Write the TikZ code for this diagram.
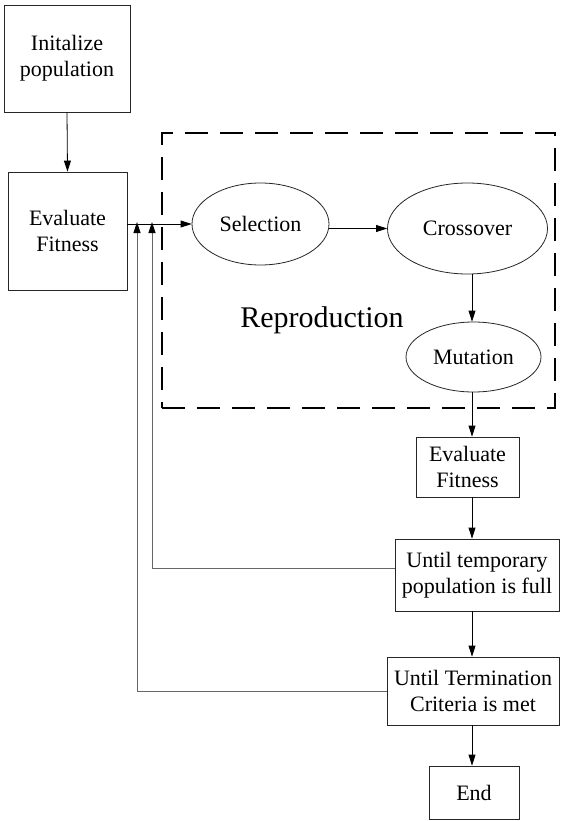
\documentclass[tikz,border=0pt]{standalone}
\usepackage{fontspec}
\setmainfont{Liberation Serif}
\usetikzlibrary{arrows.meta,shapes.geometric}
\begin{document}
\begin{tikzpicture}[x=1pt,y=-1pt,
  box/.style={draw=black!85, line width=0.8pt, rectangle, align=center, inner sep=0pt,
    font=\fontsize{22}{26}\selectfont},
  oval/.style={draw=black!85, line width=0.8pt, ellipse, align=center, inner sep=0pt,
    font=\fontsize{22}{26}\selectfont},
  arr/.style={line width=0.8pt, -{Triangle[length=11pt,width=7pt]}},
  fb/.style={draw=black!60, line width=0.8pt, -{Triangle[length=11pt,width=7pt,fill=black,color=black]}},
  dashbox/.style={draw=black, line width=2.2pt, dash pattern=on 23pt off 12pt, rectangle, inner sep=0pt}
]
\useasboundingbox (0,0) rectangle (561,821);
\fill[white] (0,0) rectangle (561,821);

\node[dashbox, minimum width=393pt, minimum height=275pt] (rbox) at (358.5,270.5) {};

\node[box, minimum width=126pt, minimum height=107pt] (init) at (67,58.5) {Initalize\\population};
\node[box, minimum width=119pt, minimum height=118pt] (eval1) at (67.5,231) {Evaluate\\Fitness};
\node[oval, minimum width=137pt, minimum height=82pt] (sel) at (260.5,224) {Selection};
\node[oval, minimum width=160pt, minimum height=91pt] (cross) at (467.5,228.5) {Crossover};
\node[oval, minimum width=135pt, minimum height=70pt] (mut) at (473.5,357) {Mutation};
\node[font=\fontsize{30}{36}\selectfont, inner sep=0pt] (repro) at (322,320) {Reproduction};
\node[box, minimum width=103pt, minimum height=60pt] (eval2) at (467.5,467) {Evaluate\\Fitness};
\node[box, minimum width=164pt, minimum height=72pt] (temp) at (477,575) {Until temporary\\population is full};
\node[box, minimum width=172pt, minimum height=68pt] (term) at (473,691) {Until Termination\\Criteria is met};
\node[box, minimum width=90pt, minimum height=53pt] (endn) at (474,792.5) {End};

\coordinate (col) at (472,0);
\coordinate (fbA) at (152,222);
\coordinate (fbB) at (137,222);

\draw[arr] (init.south) -- (eval1.north);
\draw[arr] (eval1.east |- sel.west) -- (sel.west);
\draw[arr] (sel.east |- cross.west) -- (cross.west);
\draw[arr] (cross.south -| col) -- (mut.north -| col);
\draw[arr] (mut.south -| col) -- (eval2.north -| col);
\draw[arr] (eval2.south -| col) -- (temp.north -| col);
\draw[arr] (temp.south -| col) -- (term.north -| col);
\draw[arr] (term.south -| col) -- (endn.north -| col);

\draw[fb] ([yshift=7pt]temp.west) -| (fbA);
\draw[fb] (term.west) -| (fbB);
\end{tikzpicture}
\end{document}
